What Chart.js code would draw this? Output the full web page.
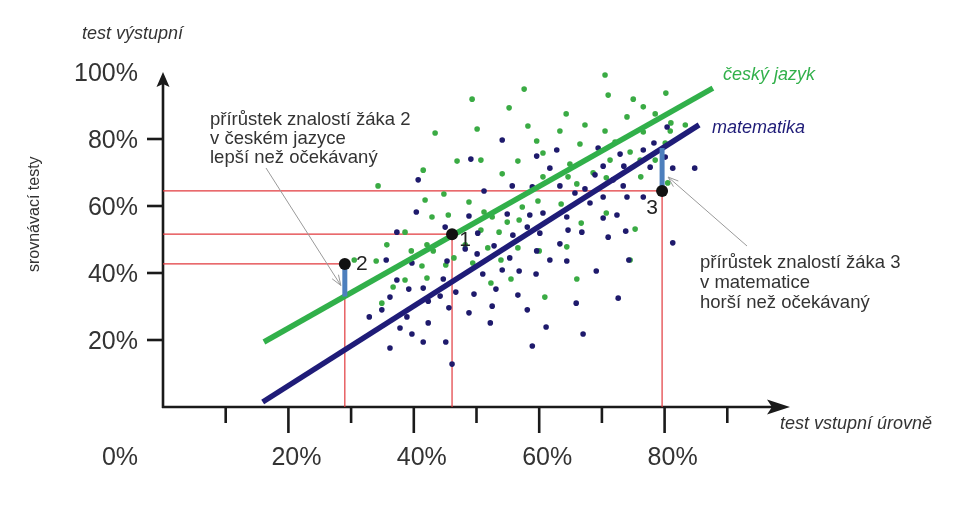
<!DOCTYPE html>
<html lang="cs">
<head>
<meta charset="utf-8">
<title>Přírůstek znalostí</title>
<script src="https://cdn.jsdelivr.net/npm/chart.js@4.4.1/dist/chart.umd.min.js"></script>
<style>
  html, body { margin: 0; padding: 0; background: #fff; }
  #graf { display: block; }
</style>
</head>
<body>
<canvas id="graf" width="978" height="509"></canvas>
<script>
// Osy
const xTicks = [0, 20, 40, 60, 80];
const xTickLabels = ['0%', '20%', '40%', '60%', '80%'];
const xMinorTicks = [10, 30, 50, 70, 90];
const yTicks = [20, 40, 60, 80, 100];
const yTickLabels = ['20%', '40%', '60%', '80%', '100%'];

// Body žáků [vstupní test, výstupní test] v %
const cestinaBody = [
    [70.5,99.1],[57.6,94.9],[49.3,91.9],[80.2,93.7],[55.2,89.3],[75.0,91.9],[76.6,89.6],[64.3,87.5],
    [71.0,93.1],[50.1,83.0],[58.2,83.9],[67.3,84.2],[63.3,82.4],[70.5,82.4],[43.4,81.8],[78.5,87.5],
    [59.6,79.4],[66.5,78.5],[74.0,86.6],[81.0,84.8],[83.3,84.2],[80.9,82.4],[46.9,73.4],[50.7,73.7],
    [56.6,73.4],[60.6,75.8],[64.9,72.5],[41.5,70.7],[54.1,69.6],[60.6,68.7],[64.6,68.7],[68.6,69.9],
    [70.7,68.4],[74.5,76.1],[76.2,68.7],[34.3,66.0],[44.8,63.6],[41.8,61.8],[59.8,61.5],[63.5,60.6],
    [66.0,66.6],[48.8,61.2],[45.5,57.3],[42.9,56.7],[51.2,58.2],[52.5,56.7],[54.9,55.2],[56.8,55.8],
    [57.3,59.7],[66.7,54.9],[70.7,57.9],[38.6,52.2],[35.7,48.4],[39.6,46.6],[42.1,48.4],[43.1,46.6],
    [46.4,44.5],[50.7,52.8],[51.8,47.5],[53.6,52.2],[56.6,47.5],[48.2,48.4],[49.4,43.0],[53.9,43.9],
    [64.4,47.8],[60.0,46.6],[34.0,43.6],[30.5,43.9],[38.6,37.9],[42.1,38.5],[41.3,42.1],[45.1,42.4],
    [36.7,35.8],[34.9,31.0],[52.3,37.0],[55.5,38.2],[66.0,38.2],[60.9,32.8],[74.5,43.9],[75.3,53.1],
    [72.1,79.1],[80.1,78.8],[71.3,73.7],[76.1,73.7],[78.5,73.7],[80.5,66.9],[76.6,82.1]
];
const matematikaBody = [
    [54.1,79.7],[49.1,74.0],[40.7,67.8],[62.8,76.7],[59.6,74.9],[69.4,77.3],[72.9,75.5],[76.6,76.7],
    [78.3,78.8],[81.3,71.3],[84.8,71.3],[61.7,71.3],[70.2,71.9],[68.9,69.3],[73.5,71.9],[77.7,71.6],
    [55.7,66.0],[58.9,65.7],[63.3,66.0],[73.4,66.0],[67.3,65.1],[51.2,64.5],[65.7,63.9],[70.2,62.7],
    [74.0,62.7],[40.4,58.2],[48.8,57.0],[54.9,57.6],[58.5,57.3],[60.6,57.9],[64.4,56.7],[72.4,57.3],
    [37.3,52.2],[45.0,53.7],[50.2,51.9],[55.8,51.3],[60.1,51.9],[64.6,52.8],[71.0,50.7],[73.8,52.5],
    [48.2,47.2],[50.1,45.7],[52.8,48.1],[55.3,44.5],[58.1,53.7],[59.6,46.6],[63.3,48.7],[66.8,52.2],
    [68.1,60.9],[70.2,56.4],[81.3,49.0],[61.7,43.9],[64.4,43.6],[69.1,40.6],[74.3,43.9],[35.6,43.9],
    [39.7,43.0],[45.3,43.6],[51.0,39.7],[54.1,40.9],[56.8,40.6],[59.5,39.7],[37.3,37.9],[39.2,35.2],
    [41.5,35.5],[44.2,33.1],[44.7,38.2],[46.7,34.3],[49.6,33.7],[53.1,35.2],[56.6,33.4],[36.2,32.8],
    [34.9,29.0],[32.9,26.9],[38.9,26.9],[42.3,31.6],[45.6,29.6],[48.8,28.1],[52.5,30.1],[58.1,29.0],
    [61.1,23.9],[65.9,31.0],[72.6,32.5],[37.8,23.6],[42.3,25.1],[52.2,25.1],[39.7,21.8],[41.5,19.4],
    [45.1,19.4],[36.2,17.6],[58.9,18.2],[67.0,21.8],[46.1,12.8],[80.4,83.6],[71.8,67.8],[76.6,62.7],
    [80.1,74.6]
];

// Regresní přímky (začátek, konec)
const cestinaPrimka = [[16.1, 19.4], [87.7, 95.2]];
const matematikaPrimka = [[15.9, 1.5], [85.5, 84.2]];

// Vybraní žáci
const zaciPopisky = ['1', '2', '3'];
const zaciX = [46.1, 29.0, 79.6];
const zaciY = [51.6, 42.7, 64.5];
const zaciOcekavano = [51.6, 33.0, 77.3];

const barvy = {
    cestina: '#31b04a',
    cestinaBod: '#3aab44',
    matematika: '#1f1c78',
    matematikaBod: '#1e1a6c',
    cervena: '#e23a3e',
    prirustek: '#4d7fbd',
    osa: '#1a1a1a',
    text: '#333333'
};

const toXY = arr => arr.map(p => ({ x: p[0], y: p[1] }));

// Pomocné čáry k vybraným žákům
const vodiciCary = zaciX.map((x, i) => ({
    data: [{ x: 0, y: zaciY[i] }, { x: x, y: zaciY[i] }, { x: x, y: 0 }],
    showLine: true,
    borderColor: barvy.cervena,
    borderWidth: 1.2,
    pointRadius: 0,
    order: 9,
    clip: false
}));

const prirustky = zaciX
    .map((x, i) => ({ x, y1: zaciY[i], y2: zaciOcekavano[i] }))
    .filter(z => z.y1 !== z.y2)
    .map(z => ({
        data: [{ x: z.x, y: z.y1 }, { x: z.x, y: z.y2 }],
        showLine: true,
        borderColor: barvy.prirustek,
        borderWidth: 5,
        borderCapStyle: 'butt',
        pointRadius: 0,
        order: 1,
        clip: false
    }));

const datasets = [
    {
        data: zaciX.map((x, i) => ({ x, y: zaciY[i] })),
        pointRadius: 6,
        pointBackgroundColor: '#111',
        pointBorderWidth: 0,
        order: 0,
        clip: false
    },
    ...prirustky,
    {
        data: toXY(cestinaPrimka),
        showLine: true,
        borderColor: barvy.cestina,
        borderWidth: 5.5,
        borderCapStyle: 'butt',
        pointRadius: 0,
        order: 2,
        clip: false
    },
    {
        data: toXY(matematikaPrimka),
        showLine: true,
        borderColor: barvy.matematika,
        borderWidth: 5.5,
        borderCapStyle: 'butt',
        pointRadius: 0,
        order: 3,
        clip: false
    },
    {
        data: toXY(matematikaBody),
        pointRadius: 2.8,
        pointBackgroundColor: barvy.matematikaBod,
        pointBorderWidth: 0,
        order: 4,
        clip: false
    },
    {
        data: toXY(cestinaBody),
        pointRadius: 2.8,
        pointBackgroundColor: barvy.cestinaBod,
        pointBorderWidth: 0,
        order: 5,
        clip: false
    },
    ...vodiciCary
];

function sipka(ctx, x1, y1, x2, y2) {
    // tenká šedá šipka s otevřeným hrotem
    const a = Math.atan2(y2 - y1, x2 - x1);
    ctx.beginPath();
    ctx.moveTo(x1, y1);
    ctx.lineTo(x2, y2);
    ctx.moveTo(x2 - 11 * Math.cos(a - 0.35), y2 - 11 * Math.sin(a - 0.35));
    ctx.lineTo(x2, y2);
    ctx.lineTo(x2 - 11 * Math.cos(a + 0.35), y2 - 11 * Math.sin(a + 0.35));
    ctx.stroke();
}

const osyPlugin = {
    id: 'osy',
    beforeDatasetsDraw(chart) {
        const { ctx, scales: { x, y } } = chart;
        const x0 = x.getPixelForValue(0), y0 = y.getPixelForValue(0);
        const xEnd = x.getPixelForValue(100), yEnd = y.getPixelForValue(100);
        ctx.save();
        ctx.strokeStyle = barvy.osa;
        ctx.fillStyle = barvy.osa;
        ctx.lineWidth = 2.6;

        // svislá osa + šipka
        ctx.beginPath();
        ctx.moveTo(x0, y0 + 1);
        ctx.lineTo(x0, yEnd + 12);
        ctx.stroke();
        ctx.beginPath();
        ctx.moveTo(x0, yEnd);
        ctx.lineTo(x0 - 6.5, yEnd + 15);
        ctx.lineTo(x0, yEnd + 12);
        ctx.lineTo(x0 + 6.5, yEnd + 15);
        ctx.closePath();
        ctx.fill();

        // vodorovná osa + šipka
        ctx.beginPath();
        ctx.moveTo(x0 - 1, y0);
        ctx.lineTo(xEnd - 18, y0);
        ctx.stroke();
        ctx.beginPath();
        ctx.moveTo(xEnd, y0);
        ctx.lineTo(xEnd - 23, y0 - 7.5);
        ctx.lineTo(xEnd - 18, y0);
        ctx.lineTo(xEnd - 23, y0 + 7.5);
        ctx.closePath();
        ctx.fill();

        // značky na ose y
        yTicks.forEach(v => {
            if (v >= 100) return;
            const py = y.getPixelForValue(v);
            ctx.beginPath();
            ctx.moveTo(x0 - 16, py);
            ctx.lineTo(x0, py);
            ctx.stroke();
        });
        // značky na ose x (dlouhé a krátké)
        xTicks.forEach(v => {
            if (v === 0) return;
            const px = x.getPixelForValue(v);
            ctx.beginPath();
            ctx.moveTo(px, y0);
            ctx.lineTo(px, y0 + 26);
            ctx.stroke();
        });
        xMinorTicks.forEach(v => {
            const px = x.getPixelForValue(v);
            ctx.beginPath();
            ctx.moveTo(px, y0);
            ctx.lineTo(px, y0 + 16);
            ctx.stroke();
        });

        // popisky os
        ctx.fillStyle = barvy.text;
        ctx.font = '25px "Liberation Sans", Arial, sans-serif';
        ctx.textAlign = 'right';
        ctx.textBaseline = 'middle';
        yTicks.forEach((v, i) => {
            ctx.fillText(yTickLabels[i], x0 - 25, y.getPixelForValue(v) + 2);
        });
        ctx.textAlign = 'center';
        xTicks.forEach((v, i) => {
            const px = v === 0 ? x0 - 43 : x.getPixelForValue(v) + 8;
            ctx.fillText(xTickLabels[i], px, y0 + 51);
        });

        ctx.font = 'italic 18px "Liberation Sans", Arial, sans-serif';
        ctx.textAlign = 'left';
        ctx.textBaseline = 'alphabetic';
        ctx.fillText('test výstupní', 82, 39);
        ctx.fillText('test vstupní úrovně', 780, 429);

        ctx.save();
        ctx.font = '16px "Liberation Sans", Arial, sans-serif';
        ctx.translate(39, 272);
        ctx.rotate(-Math.PI / 2);
        ctx.fillText('srovnávací testy', 0, 0);
        ctx.restore();

        ctx.restore();
    },
    afterDatasetsDraw(chart) {
        const { ctx, scales: { x, y } } = chart;
        ctx.save();

        // názvy předmětů u přímek
        ctx.font = 'italic 18px "Liberation Sans", Arial, sans-serif';
        ctx.textBaseline = 'alphabetic';
        ctx.fillStyle = barvy.cestina;
        ctx.fillText('český jazyk', 723, 80);
        ctx.fillStyle = barvy.matematika;
        ctx.fillText('matematika', 712, 133);

        // čísla žáků
        ctx.fillStyle = '#222';
        ctx.font = '21px "Liberation Sans", Arial, sans-serif';
        ctx.textAlign = 'center';
        ctx.textBaseline = 'middle';
        const posuny = [[13, 6], [17, 0], [-10, 17]];
        zaciX.forEach((v, i) => {
            ctx.fillText(zaciPopisky[i],
                x.getPixelForValue(v) + posuny[i][0],
                y.getPixelForValue(zaciY[i]) + posuny[i][1]);
        });

        // komentáře
        ctx.fillStyle = barvy.text;
        ctx.font = '18.5px "Liberation Sans", Arial, sans-serif';
        ctx.textAlign = 'left';
        ctx.textBaseline = 'alphabetic';
        ['přírůstek znalostí žáka 2', 'v českém jazyce', 'lepší než očekávaný']
            .forEach((t, i) => ctx.fillText(t, 210, 125 + i * 19));
        ['přírůstek znalostí žáka 3', 'v matematice', 'horší než očekávaný']
            .forEach((t, i) => ctx.fillText(t, 700, 268 + i * 20));

        ctx.strokeStyle = '#9a9a9a';
        ctx.lineWidth = 1;
        const x2 = x.getPixelForValue(zaciX[1]), x3 = x.getPixelForValue(zaciX[2]);
        sipka(ctx, 266, 168, x2 - 4, y.getPixelForValue(zaciOcekavano[1]) - 11);
        sipka(ctx, 747, 246, x3 + 6, y.getPixelForValue(zaciOcekavano[2]) + 29);

        ctx.restore();
    }
};

const graf = new Chart(document.getElementById('graf'), {
    type: 'scatter',
    data: { datasets },
    options: {
        responsive: false,
        devicePixelRatio: 1,
        animation: false,
        events: [],
        layout: { padding: { left: 163, right: 188, top: 72, bottom: 102 } },
        scales: {
            x: { type: 'linear', min: 0, max: 100, display: false },
            y: { type: 'linear', min: 0, max: 100, display: false }
        },
        plugins: {
            legend: { display: false },
            tooltip: { enabled: false }
        }
    },
    plugins: [osyPlugin]
});
</script>
</body>
</html>
